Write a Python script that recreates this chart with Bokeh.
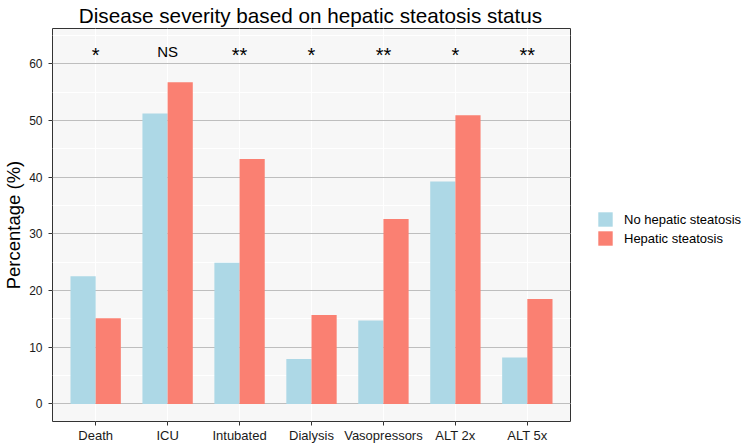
from bokeh.plotting import figure
from bokeh.models import ColumnDataSource, FactorRange, Range1d, SingleIntervalTicker, Legend, LegendItem
from bokeh.transform import dodge
from bokeh.core.properties import value
from bokeh.layouts import row, column
from bokeh.embed import file_html
from bokeh.resources import INLINE

# ---- data ----
categories = ["Death", "ICU", "Intubated", "Dialysis", "Vasopressors", "ALT 2x", "ALT 5x"]
no_hepatic_steatosis = [22.5, 51.2, 24.9, 7.9, 14.7, 39.2, 8.2]
hepatic_steatosis = [15.1, 56.7, 43.2, 15.7, 32.6, 50.9, 18.5]
significance = ["*", "NS", "**", "*", "**", "*", "**"]
significance_y = 62.1
series_labels = ["No hepatic steatosis", "Hepatic steatosis"]
title_text = "Disease severity based on hepatic steatosis status"
y_label = "Percentage (%)"

FONT = "Liberation Sans"
BLUE = "#ADD8E6"
SALMON = "#FA8072"

# asterisks drawn larger than "NS", nudged down to share its centre line
sig_sizes = ["15px" if s == "NS" else "20px" for s in significance]
sig_offsets = [0 if s == "NS" else 3 for s in significance]

src = ColumnDataSource(dict(cat=categories, no_hs=no_hepatic_steatosis,
                            hs=hepatic_steatosis, sig=significance,
                            sig_size=sig_sizes, sig_off=sig_offsets))

# ---- title strip ----
tf = figure(width=585, height=28, x_range=Range1d(0, 1), y_range=Range1d(0, 28),
            title=None, x_axis_type=None, y_axis_type=None, output_backend="svg",
            toolbar_location=None, min_border_left=50, min_border_right=15,
            min_border_top=0, min_border_bottom=0, outline_line_color=None)
tf.grid.visible = False
tf.text(x=[0.5], y=[13], text=[title_text], text_align="center",
        text_baseline="alphabetic", text_font=value(FONT),
        text_font_size="20.7px", text_color="black")

# ---- main plot ----
p = figure(width=585, height=417, title=None,
           x_range=FactorRange(factors=categories, range_padding=0.2 / 7),
           y_range=Range1d(-3.1, 66.2),
           output_backend="svg", toolbar_location=None,
           min_border_left=50, min_border_right=15,
           min_border_top=0, min_border_bottom=23)

p.background_fill_color = "#F7F7F7"
p.border_fill_color = "white"
p.outline_line_color = "#333333"
p.outline_line_width = 1

r1 = p.vbar(x=dodge("cat", -0.175, range=p.x_range), top="no_hs", width=0.35,
            source=src, fill_color=BLUE, line_color=None)
r2 = p.vbar(x=dodge("cat", 0.175, range=p.x_range), top="hs", width=0.35,
            source=src, fill_color=SALMON, line_color=None)

p.text(x="cat", y=significance_y, text="sig", source=src, text_align="center",
       text_baseline="middle", text_font=value(FONT), text_font_size="sig_size",
       y_offset="sig_off", text_color="black")

# grids
p.xgrid.grid_line_color = "white"
p.xgrid.grid_line_width = 1
p.yaxis.ticker = SingleIntervalTicker(interval=10, num_minor_ticks=2)
p.ygrid.grid_line_color = "#BEBEBE"
p.ygrid.grid_line_width = 1.2
p.ygrid.minor_grid_line_color = "white"
p.ygrid.minor_grid_line_width = 1

# axes
p.axis.axis_line_color = None
p.axis.major_tick_line_color = "#333333"
p.axis.major_tick_out = 4
p.axis.major_tick_in = 0
p.axis.minor_tick_out = 0
p.axis.minor_tick_in = 0
p.axis.major_label_text_font = FONT
p.axis.major_label_text_color = "#1a1a1a"
p.yaxis.major_label_text_font_size = "12px"
p.xaxis.major_label_text_font_size = "13px"
p.yaxis.major_label_standoff = 6
p.xaxis.major_label_standoff = 2
p.yaxis.axis_label = y_label
p.yaxis.axis_label_text_font = FONT
p.yaxis.axis_label_text_font_size = "18.5px"
p.yaxis.axis_label_text_font_style = "normal"
p.yaxis.axis_label_text_color = "black"
p.yaxis.axis_label_standoff = 2

# ---- legend panel ----
lg = figure(width=164, height=417, title=None, x_range=Range1d(0, 1), y_range=Range1d(0, 1),
            x_axis_type=None, y_axis_type=None, output_backend="svg",
            toolbar_location=None, min_border_left=0, min_border_right=0,
            min_border_top=0, min_border_bottom=23, outline_line_color=None)
lg.grid.visible = False
# off-range placeholder renderers that only supply the legend swatches
k1 = lg.vbar(x=[2], top=[1], width=0.1, fill_color=BLUE, line_color=None)
k2 = lg.vbar(x=[2], top=[1], width=0.1, fill_color=SALMON, line_color=None)
legend = Legend(items=[LegendItem(label=series_labels[0], renderers=[k1]),
                       LegendItem(label=series_labels[1], renderers=[k2])],
                location=(11, 174), glyph_width=18, glyph_height=18,
                label_height=18, spacing=1, label_standoff=10, padding=0,
                margin=0, border_line_color=None, background_fill_alpha=0,
                label_text_font=FONT, label_text_font_size="13px",
                label_text_color="black")
lg.add_layout(legend, "center")

layout = column(tf, row(p, lg))
open("out.html", "w").write(file_html(layout, INLINE))
